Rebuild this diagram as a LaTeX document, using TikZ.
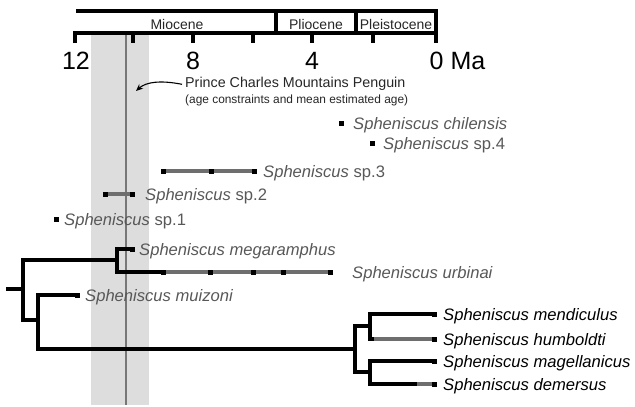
\documentclass[tikz,border=0pt]{standalone}
\usepackage{fontspec}
\setmainfont{Liberation Sans}
\usetikzlibrary{arrows.meta}
\definecolor{bandgrey}{HTML}{DDDDDD}
\definecolor{midgrey}{HTML}{777777}
\definecolor{bargrey}{HTML}{6E6E6E}
\definecolor{txtgrey}{HTML}{585858}
\begin{document}
\begin{tikzpicture}[x=1pt,y=-1pt,
  br/.style={line width=4.8pt, line cap=rect, line join=miter},
  gb/.style={line width=4.6pt, bargrey},
  ax/.style={line width=3.2pt, line join=miter},
  sq/.style={fill=black, draw=none, rectangle, minimum size=5pt, inner sep=0pt},
  fos/.style={anchor=base west, text=txtgrey, inner sep=0pt, font=\fontsize{16.6}{18}\selectfont},
  ext/.style={anchor=base west, text=black, inner sep=0pt, font=\fontsize{16.6}{18}\selectfont},
  epoch/.style={anchor=base, inner sep=0pt, text=black!85, font=\fontsize{14}{16}\selectfont},
  num/.style={anchor=base, inner sep=0pt, font=\fontsize{25}{28}\selectfont}]
\useasboundingbox (0,0) rectangle (635,407);
% band
\fill[bandgrey] (91,34) rectangle (149,405);
\draw[midgrey, line width=2pt] (126,34) -- (126,405);
% axis and epochs
\draw[ax] (75,43) -- (75,33) -- (436,33);
\draw[ax] (76,11) -- (436,11) -- (436,43);
\draw[ax] (276,11) -- (276,33);
\draw[ax] (356,11) -- (356,33);
\foreach \x in {133,193,253,312,373} \draw[ax] (\x,33) -- (\x,43);
\node[epoch] (mio) at (177,29) {Miocene};
\node[epoch] (plio) at (316,29) {Pliocene};
\node[epoch] (pleis) at (396,29) {Pleistocene};
\node[num] (n12) at (76,69) {12};
\node[num] (n8) at (193,69) {8};
\node[num] (n4) at (312,69) {4};
\node[num, anchor=base west] (n0) at (429.5,69) {0 Ma};
% PCM label
\node[anchor=base west, inner sep=0pt, text=black!85, font=\fontsize{14.3}{16}\selectfont] (pcm) at (185,87) {Prince Charles Mountains Penguin};
\node[anchor=base west, inner sep=0pt, text=black!85, font=\fontsize{11.9}{14}\selectfont] (pcm2) at (185,103) {(age constraints and mean estimated age)};
\coordinate (arrtip) at (136,91);
\draw[line width=1.1pt, -{Stealth[length=7pt,width=6pt]}] ([xshift=-3pt,yshift=-1pt]pcm.west) .. controls (160,80) and (146,82) .. (arrtip);
% fossil ranges
\draw[gb] (163,171) -- (254,171);
\draw[gb] (105,194) -- (132,194);
\foreach \x in {163,211,254} \node[sq] at (\x,171) {};
\foreach \x in {105,132} \node[sq] at (\x,194) {};
\node[sq] (s1) at (56,219) {};
\node[sq] (chil) at (341,123) {};
\node[sq] (sp4) at (372,143) {};
% tree coordinates
\coordinate (root) at (8,289);
\coordinate (A) at (117,260);
\coordinate (B) at (38,320);
\coordinate (C) at (355,349);
% grey parts first
\draw[gb] (163,272) -- (330,272);
\draw[gb] (372,339) -- (432,339);
\draw[gb] (415,384) -- (432,384);
% black branches
\draw[br] (root) -- (23,289);
\draw[br] (A) -- (23,260) -- (23,320) -- (B);
\draw[br] (131,249) -- (117,249) -- (117,272) -- (163,272);
\draw[br] (76,295) -- (38,295) -- (38,349) -- (C);
\draw[br] (355,326) -- (355,372);
\draw[br] (433,314) -- (370,314) -- (370,339) -- (372,339);
\draw[br] (355,326) -- (370,326);
\draw[br] (355,372) -- (370,372);
\draw[br] (433,361) -- (370,361) -- (370,384) -- (415,384);
% tip squares
\node[sq] at (132,249) {};
\foreach \x in {163,210,253,283,330} \node[sq] at (\x,272) {};
\node[sq] at (77,295) {};
\foreach \y in {314,339,361,384} \node[sq] at (434,\y) {};
% labels
\node[fos] (l-chil) at (353,129) {\textit{Spheniscus chilensis}};
\node[fos] (l-sp4) at (383,149) {\textit{Spheniscus} sp.4};
\node[fos] (l-sp3) at (263,177) {\textit{Spheniscus} sp.3};
\node[fos] (l-sp2) at (145,200) {\textit{Spheniscus} sp.2};
\node[fos] (l-sp1) at (64,225) {\textit{Spheniscus} sp.1};
\node[fos] (l-meg) at (139,255) {\textit{Spheniscus megaramphus}};
\node[fos] (l-urb) at (352,278) {\textit{Spheniscus urbinai}};
\node[fos] (l-mui) at (85,301) {\textit{Spheniscus muizoni}};
\node[ext] (l-men) at (443,320) {\textit{Spheniscus mendiculus}};
\node[ext] (l-hum) at (443,345) {\textit{Spheniscus humboldti}};
\node[ext] (l-mag) at (443,367) {\textit{Spheniscus magellanicus}};
\node[ext] (l-dem) at (443,390) {\textit{Spheniscus demersus}};
\end{tikzpicture}
\end{document}
